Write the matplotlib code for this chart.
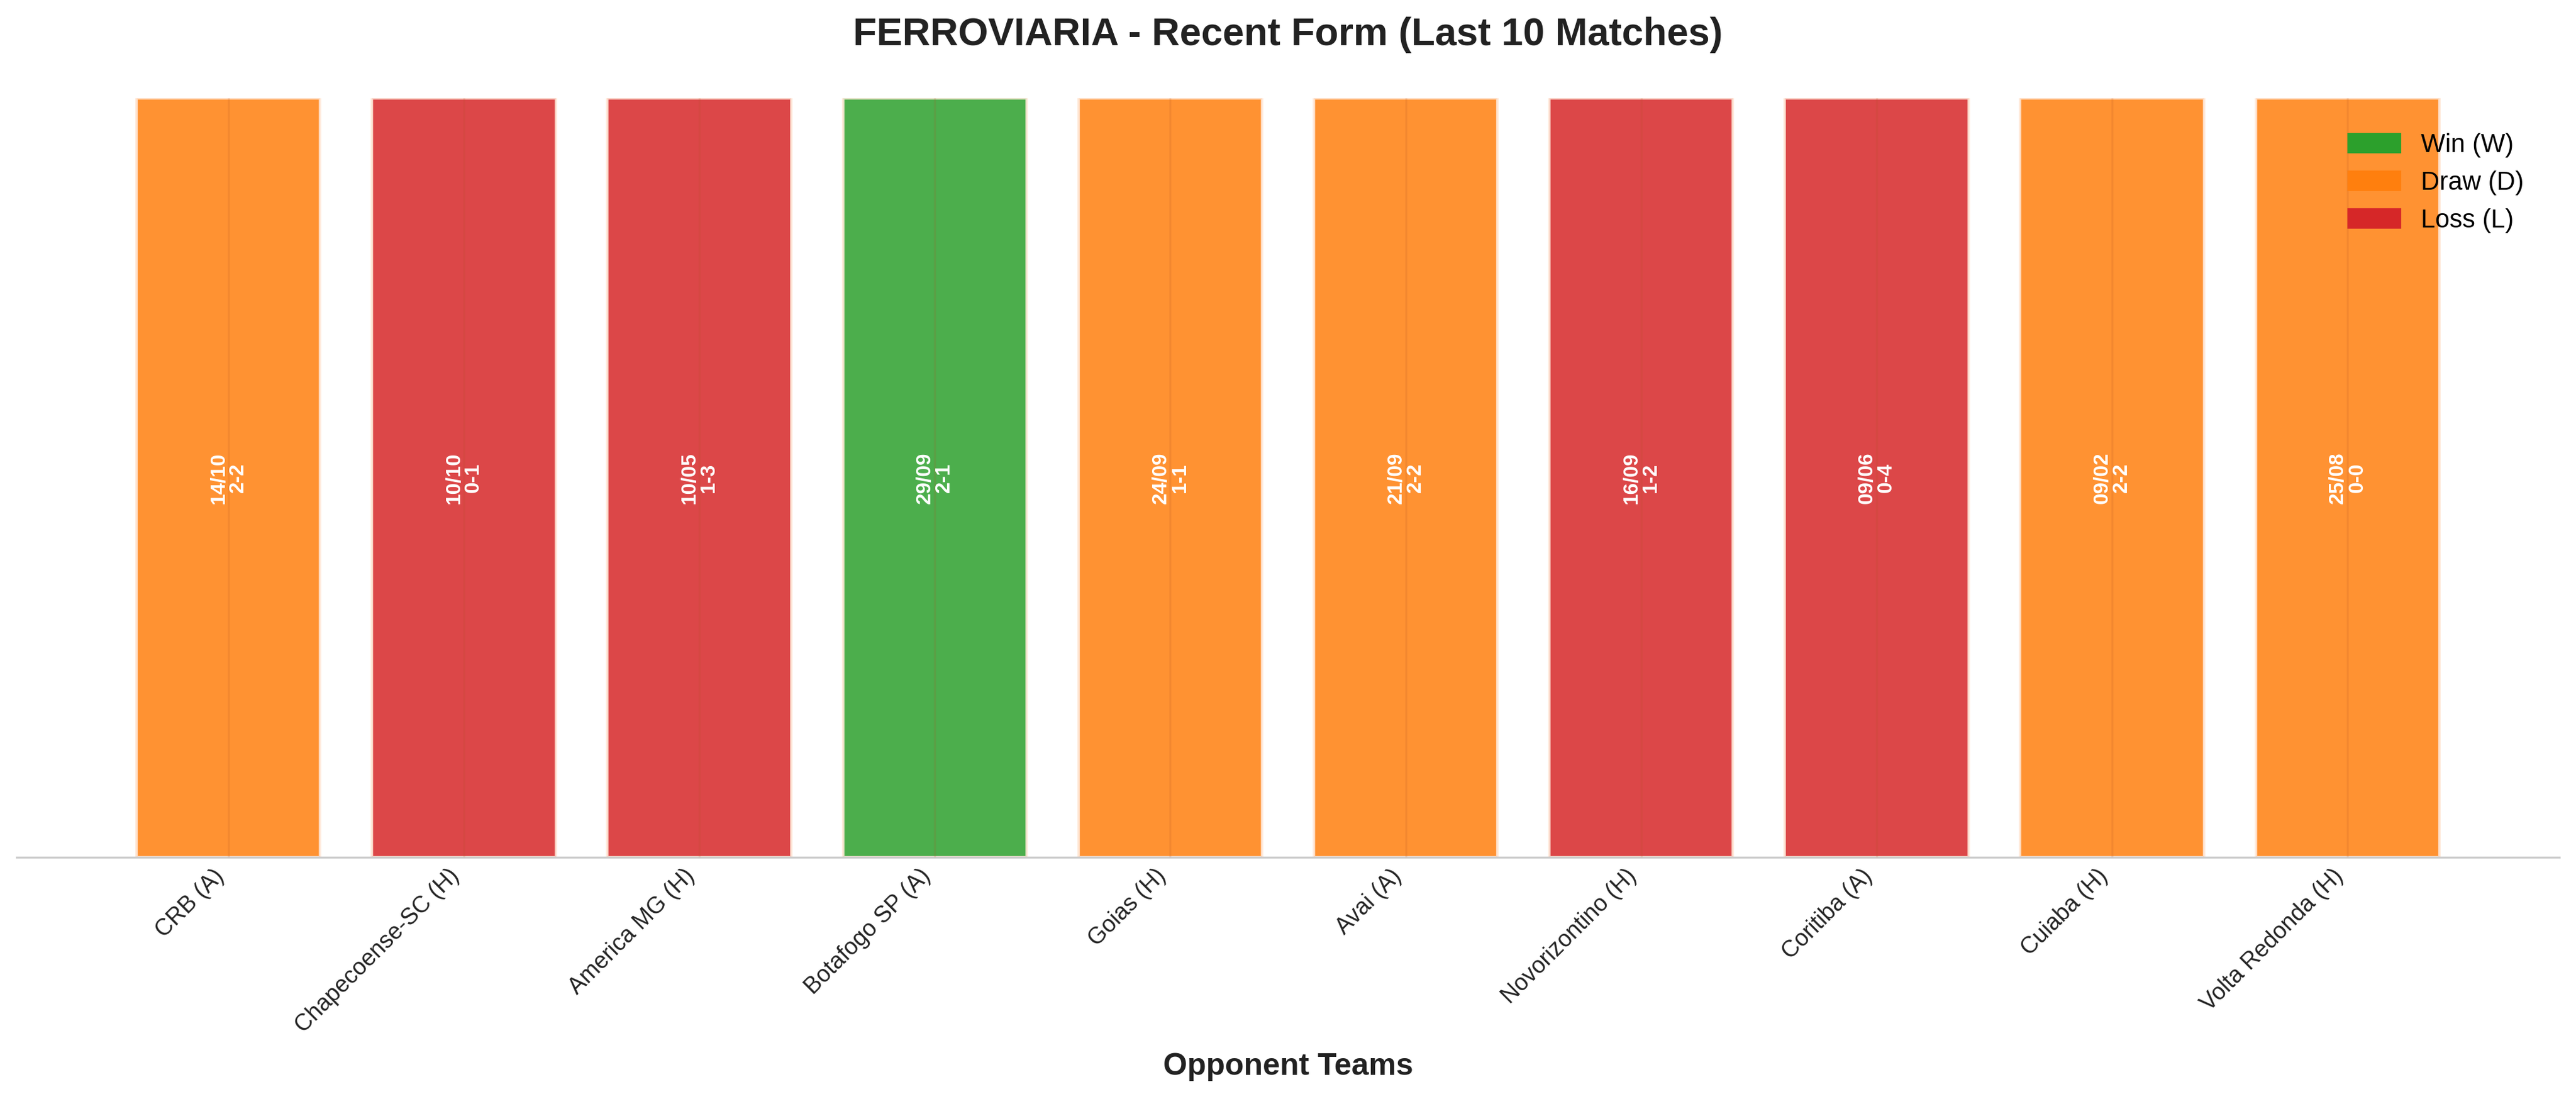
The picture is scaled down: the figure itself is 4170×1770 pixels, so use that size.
import matplotlib
matplotlib.use("Agg")
import matplotlib.pyplot as plt
from matplotlib.patches import Patch

teams = ["CRB (A)", "Chapecoense-SC (H)", "America MG (H)", "Botafogo SP (A)", "Goias (H)",
         "Avai (A)", "Novorizontino (H)", "Coritiba (A)", "Cuiaba (H)", "Volta Redonda (H)"]
results = ["D", "L", "L", "W", "D", "D", "L", "L", "D", "D"]
dates = ["14/10", "10/10", "10/05", "29/09", "24/09", "21/09", "16/09", "09/06", "09/02", "25/08"]
scores = ["2-2", "0-1", "1-3", "2-1", "1-1", "2-2", "1-2", "0-4", "2-2", "0-0"]
heights = [1] * 10

plt.rcParams['font.family'] = ['Liberation Sans', 'DejaVu Sans']
colors = {"W": "#2ca02c", "D": "#ff7f0e", "L": "#d62728"}

fig = plt.figure(figsize=(13.9, 5.9), dpi=300)
ax = fig.add_axes([0.0064, 0.2165, 0.9872, 0.6935])
x = list(range(len(teams)))
ax.bar(x, heights, width=0.78, color=[colors[r] for r in results], alpha=0.85,
       edgecolor="#ffe8d8", linewidth=1.0, zorder=2)
ax.set_xticks(x)
ax.set_xticklabels(teams, rotation=45, ha="right", fontsize=9, color="#222222")
ax.grid(axis="x", color="#b05020", alpha=0.15, linewidth=0.8, zorder=3)
ax.set_axisbelow(False)
ax.set_yticks([])
ax.set_xlim(-0.9, 9.9)
ax.set_ylim(0, 1.0)
for s in ["top", "right", "left"]:
    ax.spines[s].set_visible(False)
ax.spines["bottom"].set_color("#cccccc")
ax.tick_params(axis="x", length=0, pad=3)
for i in x:
    ax.text(i, 0.5, f"{dates[i]}\n{scores[i]}", rotation=90, ha="center", va="center",
            color="white", fontsize=8, fontweight="bold", zorder=4, linespacing=1.0)
ax.set_xlabel("Opponent Teams", fontsize=12, fontweight="bold", color="#222222", labelpad=6)
fig.suptitle("FERROVIARIA - Recent Form (Last 10 Matches)", fontsize=15, fontweight="bold",
             color="#222222", y=0.985)
handles = [Patch(color=colors["W"], label="Win (W)"), Patch(color=colors["D"], label="Draw (D)"),
           Patch(color=colors["L"], label="Loss (L)")]
ax.legend(handles=handles, loc="upper right", frameon=False, fontsize=10,
          bbox_to_anchor=(0.995, 0.985))
fig.savefig("out.png", dpi=300, facecolor="white")
